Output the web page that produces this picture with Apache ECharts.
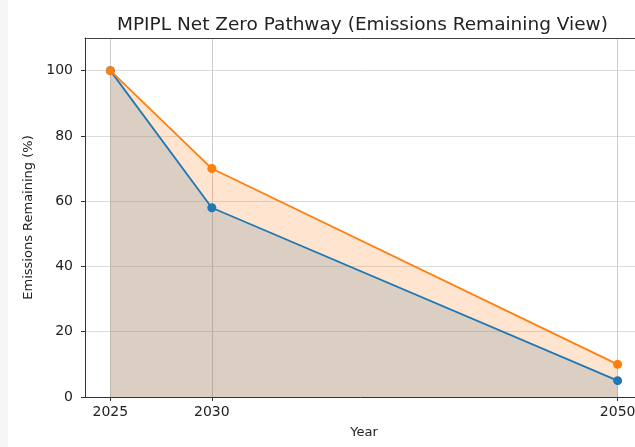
<!DOCTYPE html>
<html>
<head>
<meta charset="utf-8">
<script src="https://cdn.jsdelivr.net/npm/echarts@6/dist/echarts.min.js"></script>
<style>
  html, body { margin: 0; padding: 0; background: #fff; }
  #chart { width: 635px; height: 447px; }
</style>
</head>
<body>
<div id="chart"></div>
<script>
// data
const years = [2025, 2030, 2050]
const pathA = [100, 58, 5]   // blue
const pathB = [100, 70, 10]  // orange
const yTicks = [0, 20, 40, 60, 80, 100]

const pairs = (vals) => years.map((y, i) => [y, vals[i]])

const myChart = echarts.init(document.getElementById('chart'))

// area fills drawn first, lines on top (like fill_between + plot)
const areaSeries = (vals, color) => ({
  type: 'line',
  data: pairs(vals),
  symbol: 'none',
  lineStyle: { width: 0 },
  areaStyle: { color: color, opacity: 0.2 },
  z: 1,
  silent: true
})
const lineSeries = (vals, color) => ({
  type: 'line',
  data: pairs(vals),
  symbol: 'circle',
  symbolSize: 9,
  itemStyle: { color: color },
  lineStyle: { color: color, width: 1.8 },
  z: 5
})

const option = {
  backgroundColor: '#fff',
  animation: false,
  graphic: [{
    type: 'rect',
    shape: { x: 0, y: 0, width: 8, height: 447 },
    style: { fill: '#f6f6f6' },
    silent: true
  }],
  title: {
    text: 'MPIPL Net Zero Pathway (Emissions Remaining View)',
    left: 112,
    top: 11,
    textStyle: {
      fontFamily: 'DejaVu Sans',
      fontWeight: 'normal',
      fontSize: 18.5,
      color: '#222'
    }
  },
  grid: {
    left: 85,
    top: 38,
    width: 558,
    height: 359,
    show: false,
    containLabel: false,
    outerBoundsMode: 'none'
  },
  xAxis: [{
    type: 'value',
    min: 2023.75,
    max: 2051.25,
    name: 'Year',
    nameLocation: 'middle',
    nameGap: 29,
    nameTextStyle: { fontFamily: 'DejaVu Sans', fontSize: 13, color: '#222' },
    axisLine: { show: true, lineStyle: { color: '#333', width: 1 } },
    axisTick: { show: true, customValues: years, length: 4, lineStyle: { color: '#333' } },
    axisLabel: {
      customValues: years,
      margin: 8,
      fontFamily: 'DejaVu Sans',
      fontSize: 14,
      color: '#222',
      formatter: (v) => String(v)
    },
    splitLine: { show: true, lineStyle: { color: '#cccccc', width: 1 } }
  }, {
    // top frame line only
    type: 'value',
    position: 'top',
    min: 2023.75,
    max: 2051.25,
    axisLine: { show: true, lineStyle: { color: '#444', width: 1 } },
    axisTick: { show: false },
    axisLabel: { show: false },
    splitLine: { show: false }
  }],
  yAxis: {
    type: 'value',
    min: 0,
    max: 110,
    name: 'Emissions Remaining (%)',
    nameLocation: 'middle',
    nameGap: 50,
    nameTextStyle: { fontFamily: 'DejaVu Sans', fontSize: 13, color: '#222' },
    axisLine: { show: true, lineStyle: { color: '#333', width: 1 } },
    axisTick: { show: true, customValues: yTicks, length: 4, lineStyle: { color: '#333' } },
    axisLabel: {
      customValues: yTicks,
      margin: 12,
      fontFamily: 'DejaVu Sans',
      fontSize: 14,
      color: '#222'
    },
    splitLine: { show: true, lineStyle: { color: '#dcdcdc', width: 1 } }
  },
  series: [
    areaSeries(pathA, '#1f77b4'),
    areaSeries(pathB, '#ff7f0e'),
    lineSeries(pathA, '#1f77b4'),
    lineSeries(pathB, '#ff7f0e')
  ]
}

myChart.setOption(option)
window.addEventListener('resize', () => {
  myChart.resize()
})
</script>
</body>
</html>
